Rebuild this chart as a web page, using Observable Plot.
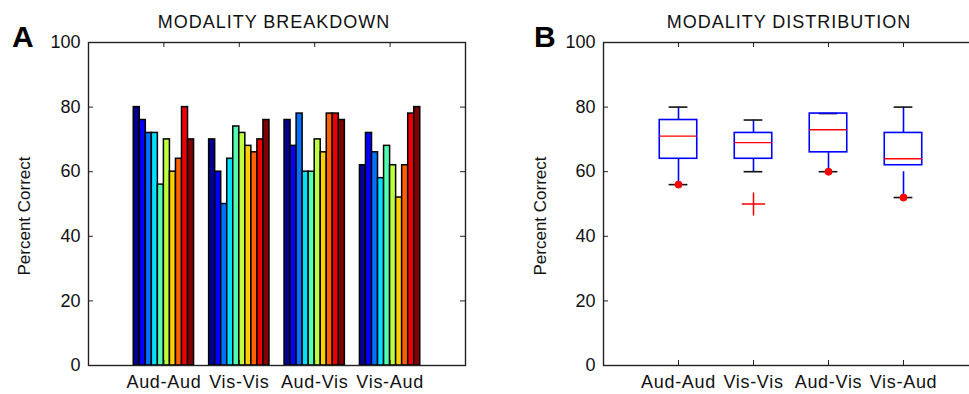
<!DOCTYPE html>
<html><head><meta charset="utf-8">
<script src="https://cdn.jsdelivr.net/npm/d3@7"></script>
<script src="https://cdn.jsdelivr.net/npm/@observablehq/plot@0.6"></script>
<style>
body{margin:0;background:#fff;}
#wrap{position:relative;width:969px;height:394px;overflow:hidden;font-family:"Liberation Sans",Arial,sans-serif;color:#111;}
#wrap svg{position:absolute;top:0;}
.abs{position:absolute;white-space:nowrap;line-height:18px;}
.title{font-size:18px;letter-spacing:1px;transform:translateX(-50%);}
.letter{font-size:30px;font-weight:bold;line-height:30px;color:#000;}
.ylab{font-size:17px;transform:translate(-50%,-50%) rotate(-90deg);}
#wrap svg g[aria-label="x-axis tick label"] text{letter-spacing:0.7px;}
</style></head>
<body><div id="wrap"></div>
<script>
// ---------- data ----------
const categories = ["Aud-Aud", "Vis-Vis", "Aud-Vis", "Vis-Aud"];
const series = ["S1","S2","S3","S4","S5","S6","S7","S8","S9","S10"];
const audAud = [80, 76, 72, 72, 56, 70, 60, 64, 80, 70];
const visVis = [70, 60, 50, 64, 74, 72, 68, 66, 70, 76];
const audVis = [76, 68, 78, 60, 60, 70, 66, 78, 78, 76];
const visAud = [62, 72, 66, 58, 68, 62, 52, 62, 78, 80];
const yTicks = [0, 20, 40, 60, 80, 100];
const xTicks = [1, 2, 3, 4];
// box statistics
const boxQ1 = [64, 64, 66, 62];
const boxMedian = [71, 69, 73, 64];
const boxQ3 = [76, 72, 78, 72];
const whiskerHigh = [80, 76, 78, 80];
const whiskerLowFrom = [64, 64, 66, 60];
const whiskerLow = [56, 60, 60, 52];
const lowMarkers = [56, null, 60, 52];
const outlierCategory = ["Vis-Vis"];
const outlierValue = [50];

// ---------- styles ----------
const jet = ["#000090","#0000ff","#0070ff","#00dfff","#50ffaf","#bfff40","#ffcf00","#ff6000","#ef0000","#800000"];
const FONT = '"Liberation Sans", Arial, sans-serif';
const AX = "#222";
const BLUE = "#0000ff", RED = "#ff0000";
const H = 394, MT = 42, MB = 29;
const innerH = H - MT - MB;

const bars = [];
[audAud, visVis, audVis, visAud].forEach((vals, gi) =>
  vals.forEach((v, si) => bars.push({category: categories[gi], pos: gi + 1, series: series[si], si, value: v})));
const GW = 0.8, BW = GW / series.length;

function axesMarks(innerW) {
  return [
    Plot.tickX(xTicks, {x: d => d, insetTop: innerH - 5, stroke: AX}),
    Plot.tickX(xTicks, {x: d => d, insetBottom: innerH - 5, stroke: AX}),
    Plot.tickY(yTicks, {y: d => d, insetRight: innerW - 5, stroke: AX}),
    Plot.tickY(yTicks, {y: d => d, insetLeft: innerW - 5, stroke: AX}),
    Plot.frame({stroke: AX, strokeWidth: 1.4}),
    Plot.axisX(xTicks, {tickSize: 0, tickPadding: 10, tickFormat: d => categories[d - 1], label: null, fontSize: 18, fill: "#111"}),
    Plot.axisY(yTicks, {tickSize: 0, tickPadding: 8, label: null, fontSize: 18, fill: "#111"})
  ];
}

const common = {
  height: H, marginTop: MT, marginBottom: MB,
  style: {fontFamily: FONT, fontSize: "18px", background: "transparent", overflow: "visible"},
  x: {type: "linear", domain: [0, 5], axis: null},
  y: {domain: [0, 100], axis: null}
};

// Panel A
const WA = 484, MLA = 88, MRA = 19;
const plotA = Plot.plot({
  ...common, width: WA, marginLeft: MLA, marginRight: MRA,
  color: {type: "ordinal", domain: series, range: jet},
  marks: [
    Plot.rectY(bars, {
      x1: d => d.pos - GW / 2 + d.si * BW,
      x2: d => d.pos - GW / 2 + (d.si + 1) * BW,
      y1: 0, y2: "value", fill: "series", stroke: "#000", strokeWidth: 1.5
    }),
    ...axesMarks(WA - MLA - MRA)
  ]
});

// Panel B
const boxes = categories.map((c, i) => ({
  category: c, pos: i + 1, q1: boxQ1[i], med: boxMedian[i], q3: boxQ3[i],
  hi: whiskerHigh[i], loFrom: whiskerLowFrom[i], lo: whiskerLow[i], mark: lowMarkers[i]
}));
const outliers = outlierCategory.map((c, i) => ({category: c, pos: categories.indexOf(c) + 1, value: outlierValue[i]}));
const BOXW = 0.5, CAP = 0.25;
const WB = 520, MLB = 119, MRB = 26;
const plotB = Plot.plot({
  ...common, width: WB, marginLeft: MLB, marginRight: MRB,
  marks: [
    Plot.ruleX(boxes, {x: "pos", y1: "q3", y2: "hi", stroke: BLUE, strokeWidth: 1.6}),
    Plot.ruleX(boxes, {x: "pos", y1: "loFrom", y2: "lo", stroke: BLUE, strokeWidth: 1.6}),
    Plot.ruleY(boxes, {y: "hi", x1: d => d.pos - CAP / 2, x2: d => d.pos + CAP / 2, stroke: "#111", strokeWidth: 1.6}),
    Plot.ruleY(boxes, {y: "lo", x1: d => d.pos - CAP / 2, x2: d => d.pos + CAP / 2, stroke: "#111", strokeWidth: 1.6}),
    Plot.rectY(boxes, {x1: d => d.pos - BOXW / 2, x2: d => d.pos + BOXW / 2, y1: "q1", y2: "q3", fill: "none", stroke: BLUE, strokeWidth: 1.6}),
    Plot.ruleY(boxes, {y: "med", x1: d => d.pos - BOXW / 2, x2: d => d.pos + BOXW / 2, stroke: RED, strokeWidth: 1.4}),
    Plot.dot(boxes.filter(d => d.mark != null), {x: "pos", y: "mark", r: 3.5, fill: RED, stroke: RED, strokeWidth: 1}),
    Plot.dot(outliers, {x: "pos", y: "value", symbol: "plus", r: 7.5, stroke: RED, strokeWidth: 1.5}),
    ...axesMarks(WB - MLB - MRB)
  ]
});

const wrap = document.getElementById("wrap");
plotA.style.left = "0px";
plotB.style.left = "484px";
wrap.appendChild(plotA);
wrap.appendChild(plotB);

function addText(cls, text, left, top) {
  const d = document.createElement("div");
  d.className = "abs " + cls;
  d.textContent = text;
  d.style.left = left + "px";
  d.style.top = top + "px";
  wrap.appendChild(d);
}
addText("title", "MODALITY BREAKDOWN", 274, 13);
addText("title", "MODALITY DISTRIBUTION", 789, 13);
addText("letter", "A", 12, 22);
addText("letter", "B", 534, 22);
addText("ylab", "Percent Correct", 25, 216);
addText("ylab", "Percent Correct", 541, 216);
</script>
</body></html>
